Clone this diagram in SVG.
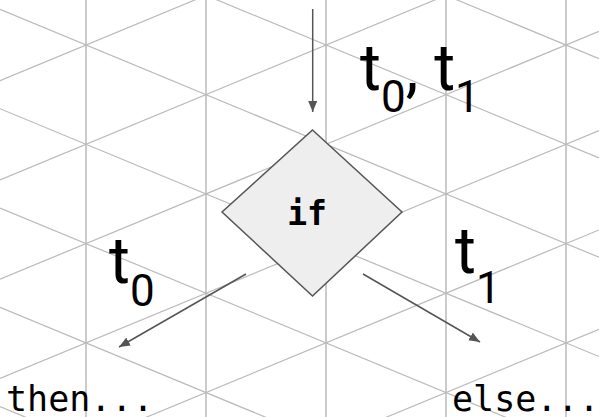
<svg xmlns="http://www.w3.org/2000/svg" width="599" height="417" viewBox="0 0 599 417">
<style>
.grid line{stroke:#bababa;stroke-width:1.2;fill:none}
.grid .v{stroke-width:1.5}
.conn line{stroke:#555;stroke-width:1.5;marker-end:url(#ah)}
.lbl{font-family:Roboto,"Liberation Sans",sans-serif;fill:#000}
.code{font-family:"DejaVu Sans Mono","Liberation Mono",monospace;fill:#000}
</style>
<defs>
<marker id="ah" markerUnits="userSpaceOnUse" markerWidth="12" markerHeight="10" refX="11" refY="4.5" orient="auto">
<path d="M0,0 L11,4.5 L0,9 z" fill="#555"/>
</marker>
</defs>
<rect width="599" height="417" fill="#fff"/>
<g class="grid">
<line class="v" x1="86" y1="0" x2="86" y2="417"/>
<line class="v" x1="206" y1="0" x2="206" y2="417"/>
<line class="v" x1="326" y1="0" x2="326" y2="417"/>
<line class="v" x1="446" y1="0" x2="446" y2="417"/>
<line class="v" x1="566" y1="0" x2="566" y2="417"/>
<line x1="0" y1="-189.18" x2="599" y2="58.66"/>
<line x1="0" y1="-89.88" x2="599" y2="157.96"/>
<line x1="0" y1="9.42" x2="599" y2="257.26"/>
<line x1="0" y1="108.72" x2="599" y2="356.56"/>
<line x1="0" y1="208.02" x2="599" y2="455.86"/>
<line x1="0" y1="307.32" x2="599" y2="555.16"/>
<line x1="0" y1="406.62" x2="599" y2="654.46"/>
<line x1="0" y1="80.58" x2="599" y2="-167.26"/>
<line x1="0" y1="179.88" x2="599" y2="-67.96"/>
<line x1="0" y1="279.18" x2="599" y2="31.34"/>
<line x1="0" y1="378.48" x2="599" y2="130.64"/>
<line x1="0" y1="477.78" x2="599" y2="229.94"/>
<line x1="0" y1="577.08" x2="599" y2="329.24"/>
</g>
<g class="conn">
<line x1="312.7" y1="9" x2="312.7" y2="112"/>
<line x1="246" y1="274" x2="119" y2="347"/>
<line x1="363" y1="274" x2="480" y2="342"/>
</g>
<g id="if">
<polygon points="312.5,130 402,212 312.5,296 222,212" fill="#eeeeee" stroke="#555" stroke-width="1.5"/>
<text class="code" x="307" y="225" font-size="33" font-weight="bold" text-anchor="middle">if</text>
</g>
<g id="label-top">
<text class="lbl" font-size="64" x="360" y="90">t<tspan font-size="44" dy="22">0</tspan><tspan dy="-22">, t</tspan><tspan font-size="44" dy="22">1</tspan></text>
</g>
<g id="label-left">
<text class="lbl" font-size="64" x="109" y="283">t<tspan font-size="44" dy="23">0</tspan></text>
</g>
<g id="label-right">
<text class="lbl" font-size="64" x="455" y="273">t<tspan font-size="44" dy="30">1</tspan></text>
</g>
<g id="then">
<text class="code" x="6" y="411" font-size="35">then...</text>
</g>
<g id="else">
<text class="code" x="452" y="411" font-size="35">else...</text>
</g>
</svg>
